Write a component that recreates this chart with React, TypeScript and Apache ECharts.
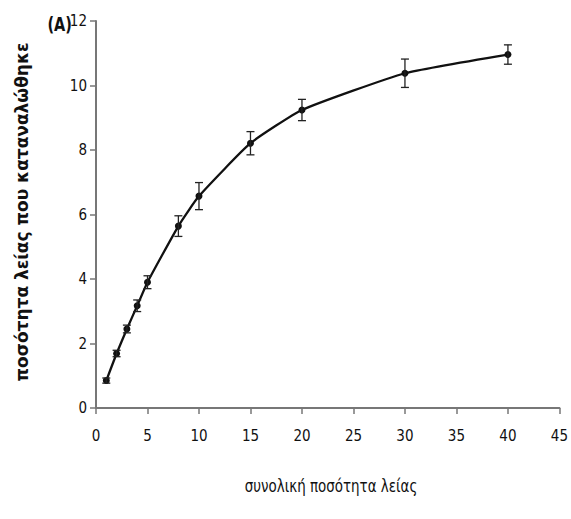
import React, { useEffect, useRef } from "react";
import * as echarts from "echarts";

const xValues = [1, 2, 3, 4, 5, 8, 10, 15, 20, 30, 40];
const yValues = [0.85, 1.69, 2.45, 3.17, 3.9, 5.64, 6.57, 8.21, 9.24, 10.38, 10.96];
const errValues = [0.08, 0.1, 0.12, 0.18, 0.2, 0.32, 0.42, 0.36, 0.33, 0.44, 0.3];
const xTicks = [0, 5, 10, 15, 20, 25, 30, 35, 40, 45];
const yTicks = [0, 2, 4, 6, 8, 10, 12];

const tickFont = "'Liberation Sans Narrow', 'DejaVu Sans Condensed', 'Arial Narrow', sans-serif";

export default function App() {
  const ref = useRef<HTMLDivElement>(null);
  useEffect(() => {
    if (!ref.current) return;
    const chart = echarts.init(ref.current, null, { renderer: "svg" });
    const lineData = xValues.map((x, i) => [x, yValues[i]]);
    const errData = xValues.map((x, i) => [x, yValues[i] - errValues[i], yValues[i] + errValues[i]]);
    chart.setOption({
      animation: false,
      backgroundColor: "#ffffff",
      grid: { left: 96, right: 9, top: 21, bottom: 111, containLabel: false },
      xAxis: {
        type: "value",
        min: xTicks[0],
        max: xTicks[xTicks.length - 1],
        interval: 5,
        axisLine: { lineStyle: { color: "#777", width: 2 } },
        axisTick: { show: true, length: 6, lineStyle: { color: "#777", width: 1.5 } },
        axisLabel: { fontFamily: tickFont, fontSize: 15, color: "#111", margin: 20 },
        splitLine: { show: false },
      },
      yAxis: {
        type: "value",
        min: yTicks[0],
        max: yTicks[yTicks.length - 1],
        interval: 2,
        axisLine: { show: true, lineStyle: { color: "#777", width: 2 } },
        axisTick: { show: true, length: 6, lineStyle: { color: "#777", width: 1.5 } },
        axisLabel: { fontFamily: tickFont, fontSize: 15, color: "#111", margin: 9 },
        splitLine: { show: false },
      },
      graphic: [
        {
          type: "text",
          x: 72,
          y: 25,
          scaleX: 0.85,
          style: {
            text: "(A)",
            fontFamily: tickFont,
            fontWeight: "bold",
            fontSize: 19,
            fill: "#111",
            align: "right",
            verticalAlign: "middle",
          },
        },
        {
          type: "text",
          x: 22,
          y: 212,
          rotation: Math.PI / 2,
          style: {
            text: "ποσότητα λείας που καταναλώθηκε",
            fontFamily: "'DejaVu Sans', Verdana, sans-serif",
            fontWeight: "bold",
            fontSize: 17,
            fill: "#111",
            align: "center",
            verticalAlign: "middle",
          },
        },
        {
          type: "text",
          x: 331,
          y: 486,
          scaleX: 0.83,
          style: {
            text: "συνολική ποσότητα λείας",
            fontFamily: tickFont,
            fontSize: 18,
            fill: "#111",
            align: "center",
            verticalAlign: "middle",
          },
        },
      ],
      series: [
        {
          type: "line",
          data: lineData,
          smooth: 0.15,
          symbol: "circle",
          symbolSize: 7,
          itemStyle: { color: "#111" },
          lineStyle: { color: "#111", width: 2.3 },
          z: 3,
        },
        {
          type: "custom",
          data: errData,
          z: 4,
          renderItem: (params: any, api: any) => {
            const x = api.value(0);
            const lo = api.coord([x, api.value(1)]);
            const hi = api.coord([x, api.value(2)]);
            const cap = 4;
            const style = { stroke: "#222", lineWidth: 1.3 };
            return {
              type: "group",
              children: [
                { type: "line", shape: { x1: lo[0], y1: lo[1], x2: hi[0], y2: hi[1] }, style },
                { type: "line", shape: { x1: lo[0] - cap, y1: lo[1], x2: lo[0] + cap, y2: lo[1] }, style },
                { type: "line", shape: { x1: hi[0] - cap, y1: hi[1], x2: hi[0] + cap, y2: hi[1] }, style },
              ],
            };
          },
        },
      ],
    });
    return () => chart.dispose();
  }, []);
  return (
    <div
      ref={ref}
      style={{ position: "fixed", left: 0, top: 0, width: 571, height: 519, overflow: "visible" }}
    />
  );
}
